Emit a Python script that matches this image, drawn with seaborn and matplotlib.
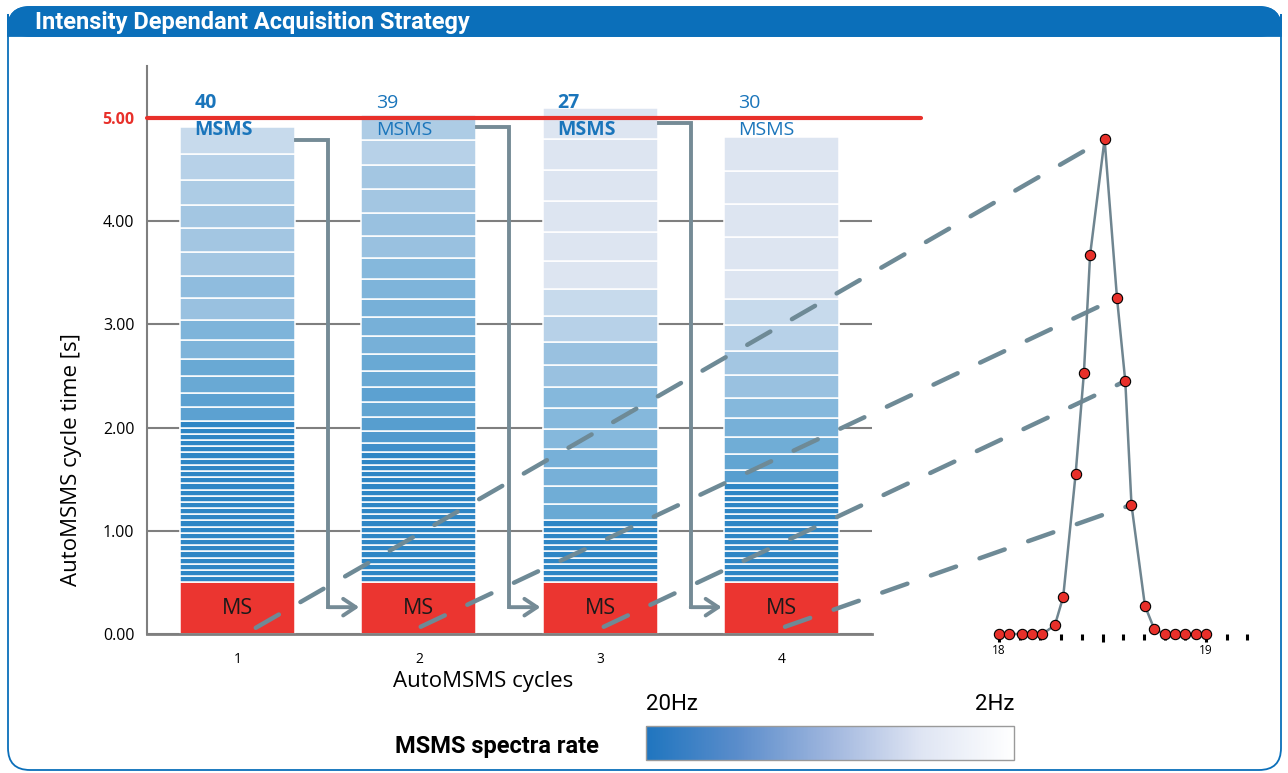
import numpy as np
import pandas as pd
import matplotlib
matplotlib.use('Agg')
import matplotlib.pyplot as plt
import seaborn as sns
from matplotlib.patches import FancyBboxPatch, Rectangle, ConnectionPatch
from matplotlib.colors import LinearSegmentedColormap, Normalize
from matplotlib.colorbar import ColorbarBase

# ── data ──
cycles = ['1', '2', '3', '4']
msms_counts = [40, 39, 27, 30]
count_bold = [True, False, True, False]
ms_times = [0.5, 0.5, 0.5, 0.5]

# MSMS spectrum durations [s] per cycle, bottom to top
seg_1 = [0.06] * 26 + [0.14, 0.14, 0.16, 0.16, 0.19, 0.19, 0.22, 0.21, 0.23, 0.23, 0.23, 0.24, 0.25, 0.26]
seg_2 = [0.06] * 21 + [0.09, 0.12, 0.13, 0.15, 0.14, 0.16, 0.16, 0.18, 0.18, 0.18, 0.19, 0.20, 0.22, 0.22,
                       0.23, 0.23, 0.25, 0.24]
seg_3 = [0.06] * 10 + [0.16, 0.17, 0.18, 0.18, 0.20, 0.20, 0.20, 0.22, 0.22, 0.25, 0.26, 0.27, 0.29, 0.30,
                       0.30, 0.30, 0.30]
seg_4 = [0.06] * 16 + [0.13, 0.15, 0.17, 0.18, 0.20, 0.22, 0.23, 0.25, 0.26, 0.28, 0.32, 0.32, 0.32, 0.33]
segments = [seg_1, seg_2, seg_3, seg_4]

max_cycle_time = 5.0
y_ticks = [0, 1, 2, 3, 4, 5]
arrow_levels = [4.79, 4.91, 4.95]
arrow_bottom = 0.26

# chromatographic peak (retention time [min], relative intensity)
peak_t = [18.00, 18.05, 18.11, 18.16, 18.21, 18.27, 18.31, 18.37, 18.41, 18.44, 18.51,
          18.57, 18.61, 18.64, 18.705, 18.75, 18.80, 18.85, 18.90, 18.95, 19.00]
peak_int = [0, 0, 0, 0, 0, 1.8, 7.5, 32.3, 52.7, 76.6, 100,
            67.9, 51.1, 26.1, 5.7, 1.0, 0, 0, 0, 0, 0]
peak_major = [18.0, 18.5, 19.0]
peak_major_labels = ['18', '', '19']
peak_minor = [18.1, 18.2, 18.3, 18.4, 18.6, 18.7, 18.8, 18.9, 19.1, 19.2]

# dashed links: start (cycle x, time) -> peak point index
dash_starts = [(0.10, 0.06), (1.01, 0.07), (2.02, 0.07), (3.02, 0.07)]
dash_targets = [10, 11, 12, 13]

# ── style ──
sns.set_style('white')
plt.rcParams['font.family'] = ['Open Sans', 'DejaVu Sans']
plt.rcParams['text.color'] = 'black'
plt.rcParams['xtick.color'] = 'black'
plt.rcParams['ytick.color'] = 'black'
NARROW = ['Roboto', 'DejaVu Sans']

BLUE_TXT = '#1a75bb'
GREY = '#7f7f7f'
ARROW = '#758b96'
FRAME = '#0b6fba'
RED = '#eb3530'

seg_cmap = LinearSegmentedColormap.from_list('seg', [
    (0.0, '#2e86c5'), (0.18, '#4592cb'), (0.43, '#62a5d2'), (0.67, '#86b8dc'),
    (0.80, '#a0c5e1'), (0.93, '#bcd4ea'), (1.0, '#dde5f1')])
seg_norm = Normalize(vmin=0.06, vmax=0.27, clip=True)
cb_cmap = LinearSegmentedColormap.from_list('cb', ['#1f75bf', '#5b8dcb', '#9fb6de', '#dfe5f3', '#ffffff'])

W, H = 1288, 773
fig = plt.figure(figsize=(W / 100, H / 100), dpi=100)

# frame + header
fig.add_artist(FancyBboxPatch((8 / 100, 3 / 100), 1273 / 100, 763 / 100,
                              boxstyle='round,pad=0,rounding_size=0.22', transform=fig.dpi_scale_trans,
                              facecolor='white', edgecolor=FRAME, lw=1.3, zorder=-3))
fig.add_artist(FancyBboxPatch((8 / 100, (H - 36) / 100), 1273 / 100, 29 / 100,
                              boxstyle='round,pad=0,rounding_size=0.22', transform=fig.dpi_scale_trans,
                              facecolor=FRAME, edgecolor=FRAME, lw=1.3, zorder=-2))
fig.add_artist(Rectangle((8 / 100, (H - 36) / 100), 1273 / 100, 12 / 100, transform=fig.dpi_scale_trans,
                         facecolor=FRAME, edgecolor=FRAME, lw=1.3, zorder=-2))
fig.text(35 / W, 1 - 22 / H, 'Intensity Dependant Acquisition Strategy', color='white',
         fontsize=17, fontweight='bold', family=NARROW, va='center', ha='left')

# ── main axes ──
ax = fig.add_axes([147 / W, 1 - 634 / H, 725 / W, 567.6 / H])
ax.patch.set_alpha(0)
bw = 0.635

sns.barplot(x=cycles, y=ms_times, color=RED, saturation=1, width=bw,
            edgecolor='white', linewidth=1.1, ax=ax, zorder=2)

for i, segs in enumerate(segments):
    bottom = ms_times[i]
    for d in segs:
        ax.bar(i, d, bottom=bottom, width=bw, color=seg_cmap(seg_norm(d)),
               edgecolor='white', linewidth=1.1, zorder=2)
        bottom += d
    ax.text(i, ms_times[i] / 2, 'MS', ha='center', va='center', fontsize=15.5, color='#1a1a1a', zorder=5)
    wt = 'bold' if count_bold[i] else 'normal'
    ax.text(i - bw / 2 + 0.08, 5.15, str(msms_counts[i]), ha='left', va='center',
            fontsize=14, color=BLUE_TXT, fontweight=wt, zorder=6)
    ax.text(i - bw / 2 + 0.08, 4.88, 'MSMS', ha='left', va='center',
            fontsize=14, color=BLUE_TXT, fontweight=wt, zorder=6)

# cycle-to-cycle arrows
for i, lvl in enumerate(arrow_levels):
    xm = i + 0.5
    ax.plot([i + bw / 2 + 0.005, xm, xm], [lvl, lvl, arrow_bottom], color=ARROW, lw=2.8,
            solid_joinstyle='miter', solid_capstyle='projecting', zorder=3, clip_on=False)
    ax.annotate('', xy=(i + 1 - bw / 2 - 0.012, arrow_bottom), xytext=(xm, arrow_bottom),
                arrowprops=dict(arrowstyle='->,head_length=0.9,head_width=0.6', color=ARROW,
                                lw=2.8, shrinkA=0, shrinkB=0), zorder=3)

# max cycle time
ax.plot([-0.5, 3.77], [max_cycle_time, max_cycle_time], color='#e8302a', lw=3, zorder=4, clip_on=False)

ax.set_xlim(-0.5, 3.5)
ax.set_ylim(0, 5.5)
ax.set_yticks(y_ticks)
ax.set_yticklabels([f'{v:.2f}' for v in y_ticks], fontsize=11.5)
lbl5 = ax.get_yticklabels()[-1]
lbl5.set_color('#e8302a')
lbl5.set_fontweight('bold')
ax.set_xticks(range(len(cycles)))
ax.set_xticklabels(cycles, fontsize=10)
ax.tick_params(axis='y', length=0, pad=9)
ax.tick_params(axis='x', length=0, pad=13)
ax.set_xlabel('')
ax.set_ylabel('')
ax.set_axisbelow(True)
ax.yaxis.grid(True, color=GREY, lw=1.5)
ax.xaxis.grid(False)
sns.despine(ax=ax)
ax.spines['left'].set_color(GREY)
ax.spines['left'].set_linewidth(1.5)
ax.spines['bottom'].set_color(GREY)
ax.spines['bottom'].set_linewidth(2)

fig.text(483 / W, 1 - 682 / H, 'AutoMSMS cycles', ha='center', va='center', fontsize=16)
fig.text(72 / W, 1 - 460 / H, 'AutoMSMS cycle time [s]', ha='center', va='center',
         rotation=90, fontsize=16)

# ── peak inset ──
ax2 = fig.add_axes([980 / W, 1 - 634 / H, 280 / W, 567.6 / H])
ax2.patch.set_alpha(0)
ax2.set_zorder(10)
sns.lineplot(x=peak_t, y=peak_int, color='#6f8590', lw=1.8, ax=ax2, clip_on=False)
sns.scatterplot(x=peak_t, y=peak_int, color='#e8302a', edgecolor='black', linewidth=0.8,
                s=55, ax=ax2, zorder=3, clip_on=False)
ax2.set_xlim(17.908, 19.261)
ax2.set_ylim(0, 114.7)
ax2.set_yticks([])
ax2.set_xticks(peak_major)
ax2.set_xticklabels(peak_major_labels, fontsize=8.5)
ax2.set_xticks(peak_minor, minor=True)
ax2.tick_params(axis='x', which='major', bottom=True, length=6, width=2.2, color='black', pad=1)
ax2.tick_params(axis='x', which='minor', bottom=True, length=4, width=2.2, color='black')
for s in ax2.spines.values():
    s.set_visible(False)

for (sx, sy), k in zip(dash_starts, dash_targets):
    con = ConnectionPatch(xyA=(sx, sy), coordsA=ax.transData,
                          xyB=(peak_t[k], peak_int[k]), coordsB=ax2.transData,
                          color='#6e8a96', lw=3.2, linestyle=(0, (6, 5.6)), zorder=6)
    fig.add_artist(con)

# ── colour legend ──
cax = fig.add_axes([646 / W, 1 - 760 / H, 368 / W, 34 / H])
cb = ColorbarBase(cax, cmap=cb_cmap, orientation='horizontal', ticks=[])
cb.outline.set_edgecolor('#9a9a9a')
cb.outline.set_linewidth(1)
fig.text(646 / W, 1 - 705 / H, '20Hz', ha='left', va='center', fontsize=16, family=NARROW)
fig.text(1014 / W, 1 - 705 / H, '2Hz', ha='right', va='center', fontsize=16, family=NARROW)
fig.text(497 / W, 1 - 747 / H, 'MSMS spectra rate', ha='center', va='center', fontsize=17,
         fontweight='bold', family=NARROW)

fig.savefig('out.png', dpi=100)
